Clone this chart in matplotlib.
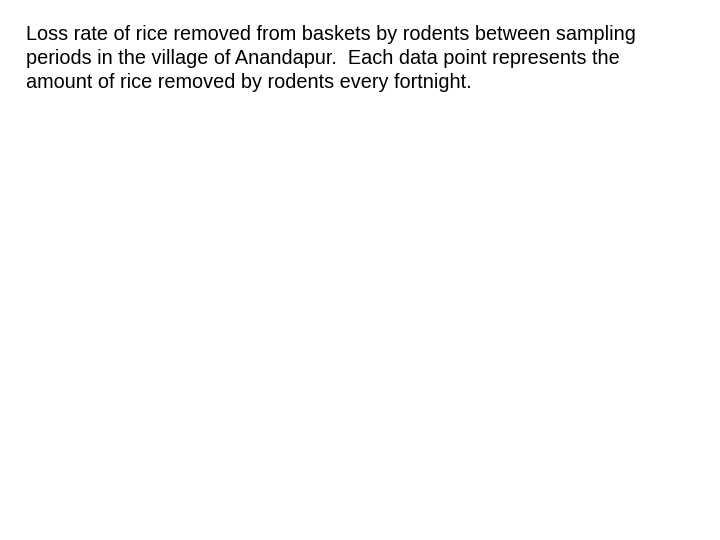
import matplotlib.pyplot as plt

# caption lines, as shown on the slide (no plotted data visible)
caption_lines = [
    "Loss rate of rice removed from baskets by rodents between sampling",
    "periods in the village of Anandapur.  Each data point represents the",
    "amount of rice removed by rodents every fortnight.",
]

fig = plt.figure(figsize=(7.2, 5.4), dpi=100)
fig.patch.set_facecolor("white")

fig.text(26 / 720, 1 - 25 / 540, "\n".join(caption_lines),
         ha="left", va="top", fontsize=14.35, family="Liberation Sans",
         color="black", linespacing=1.35)

fig.savefig("out.png", dpi=100, facecolor="white")
